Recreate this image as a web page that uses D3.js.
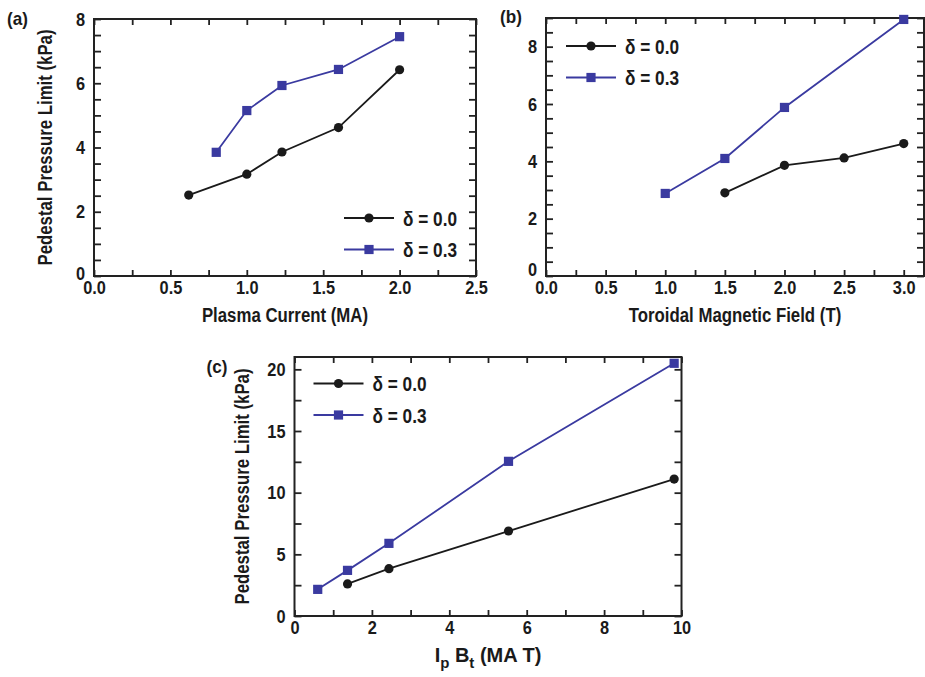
<!DOCTYPE html>
<html>
<head>
<meta charset="utf-8">
<script src="https://cdn.jsdelivr.net/npm/d3@7"></script>
<style>
  body { margin: 0; background: #fff; }
  svg text { font-family: "Liberation Sans", Arial, Helvetica, sans-serif; font-weight: bold; fill: #1a1a1a; }
</style>
</head>
<body>
<div id="graphWrapper"></div>
<script>
// (a) pedestal pressure vs plasma current
var ipA0 = [0.62, 1.0, 1.23, 1.6, 2.0];
var pA0 = [2.52, 3.17, 3.86, 4.62, 6.42];
var ipA3 = [0.8, 1.0, 1.23, 1.6, 2.0];
var pA3 = [3.85, 5.15, 5.93, 6.43, 7.45];

// (b) pedestal pressure vs toroidal field
var btB0 = [1.5, 2.0, 2.5, 3.0];
var pB0 = [2.9, 3.86, 4.12, 4.62];
var btB3 = [1.0, 1.5, 2.0, 3.0];
var pB3 = [2.88, 4.1, 5.88, 8.95];

// (c) pedestal pressure vs Ip*Bt
var ipbtC0 = [1.37, 2.44, 5.53, 9.81];
var pC0 = [2.6, 3.84, 6.89, 11.1];
var ipbtC3 = [0.6, 1.37, 2.44, 5.53, 9.81];
var pC3 = [2.16, 3.7, 5.89, 12.54, 20.49];

var seriesNames = ["\u03b4 = 0.0", "\u03b4 = 0.3"];

var xTicksA = [0, 0.5, 1.0, 1.5, 2.0, 2.5];
var yTicksA = [0, 2, 4, 6, 8];
var xTicksB = [0, 0.5, 1.0, 1.5, 2.0, 2.5, 3.0];
var yTicksB = [0, 2, 4, 6, 8];
var xTicksC = [0, 2, 4, 6, 8, 10];
var yTicksC = [0, 5, 10, 15, 20];

var black = "#1a1a1a";
var blue = "#3a3aa0";

var svg = d3.select("#graphWrapper").append("svg")
    .attr("width", 925)
    .attr("height", 677);

function minorTicks(lo, hi, step){
    var out = [];
    for (var v = lo; v <= hi + 1e-9; v += step) out.push(+v.toFixed(4));
    return out;
}

// squeeze glyphs horizontally to look like a condensed bold face
function condense(sel, k){
    sel.each(function(){
        var len = this.getComputedTextLength();
        if (len > 0) {
            d3.select(this).attr("textLength", len * k).attr("lengthAdjust", "spacingAndGlyphs");
        }
    });
}

function drawPanel(p){
    var g = svg.append("g")
        .attr("transform", "translate(" + p.left + "," + p.top + ")");
    var x = d3.scaleLinear().domain(p.xDomain).range([0, p.width]);
    var y = d3.scaleLinear().domain(p.yDomain).range([p.height, 0]);

    var xAll = minorTicks(p.xDomain[0], p.xDomain[1], p.xMinor);
    var yAll = minorTicks(p.yDomain[0], p.yDomain[1], p.yMinor);
    var onlyMajor = function(list, fmt){
        return function(d){
            var hit = list.some(function(t){ return Math.abs(t - d) < 1e-6; });
            return hit ? fmt(d) : "";
        };
    };

    var axes = [
        g.append("g").attr("transform", "translate(0," + p.height + ")")
            .call(d3.axisBottom(x).tickValues(xAll).tickSize(-6).tickPadding(5).tickFormat(onlyMajor(p.xTicks, p.xFmt))),
        g.append("g")
            .call(d3.axisLeft(y).tickValues(yAll).tickSize(-7).tickPadding(9).tickFormat(onlyMajor(p.yTicks, d3.format("d")))),
        g.append("g")
            .call(d3.axisTop(x).tickValues(xAll).tickSize(-6).tickFormat("")),
        g.append("g").attr("transform", "translate(" + p.width + ",0)")
            .call(d3.axisRight(y).tickValues(yAll).tickSize(-7).tickFormat(""))
    ];
    axes.forEach(function(a){
        a.select(".domain").remove();
        a.selectAll("line").attr("stroke", "#222").attr("stroke-width", 1.8);
        a.selectAll("text").style("font-size", "19px").attr("fill", black);
        condense(a.selectAll("text"), 0.86);
    });
    if (p.zeroShift) {
        axes[1].selectAll(".tick").filter(function(d){ return d === 0; })
            .select("text").attr("dy", (0.32 - p.zeroShift / 19) + "em");
    }

    g.append("rect")
        .attr("width", p.width)
        .attr("height", p.height)
        .attr("fill", "none")
        .attr("stroke", "#222")
        .attr("stroke-width", 2);

    var line = d3.line()
        .x(function(d){ return x(d[0]); })
        .y(function(d){ return y(d[1]); });

    var s0 = d3.zip(p.x0, p.y0);
    var s3 = d3.zip(p.x3, p.y3);

    g.append("path").datum(s0).attr("d", line)
        .attr("fill", "none").attr("stroke", black).attr("stroke-width", 1.8);
    g.append("path").datum(s3).attr("d", line)
        .attr("fill", "none").attr("stroke", blue).attr("stroke-width", 1.8);

    g.selectAll(".pt0").data(s0).enter().append("circle")
        .attr("cx", function(d){ return x(d[0]); })
        .attr("cy", function(d){ return y(d[1]); })
        .attr("r", 4.6)
        .attr("fill", black);
    g.selectAll(".pt3").data(s3).enter().append("rect")
        .attr("x", function(d){ return x(d[0]) - 4.6; })
        .attr("y", function(d){ return y(d[1]) - 4.6; })
        .attr("width", 9.2)
        .attr("height", 9.2)
        .attr("fill", blue);

    // legend
    var lg = g.append("g").attr("transform", "translate(" + p.legend[0] + "," + p.legend[1] + ")");
    [black, blue].forEach(function(c, i){
        var yy = i * 31.5;
        lg.append("line").attr("x1", 0).attr("x2", 50).attr("y1", yy).attr("y2", yy)
            .attr("stroke", c).attr("stroke-width", 1.8);
        if (i === 0) {
            lg.append("circle").attr("cx", 25).attr("cy", yy).attr("r", 4.6).attr("fill", c);
        } else {
            lg.append("rect").attr("x", 20.4).attr("y", yy - 4.6).attr("width", 9.2).attr("height", 9.2).attr("fill", c);
        }
        var t = lg.append("text").attr("x", 59).attr("y", yy).attr("dy", "0.36em")
            .style("font-size", "21px").text(seriesNames[i]);
        condense(t, 0.82);
    });

    // axis titles
    var xt = g.append("text")
        .attr("x", p.width / 2)
        .attr("y", p.height + 46)
        .attr("text-anchor", "middle")
        .style("font-size", "20px")
        .html(p.xLabel);
    if (!p.xSub) condense(xt, 0.84);
    if (p.yLabel) {
        g.append("text")
            .attr("transform", "translate(" + (-p.yLabelOff) + "," + (p.height / 2) + ") rotate(-90) scale(0.84,1)")
            .attr("text-anchor", "middle")
            .style("font-size", "20px")
            .text(p.yLabel);
    }
    var tg = g.append("text")
        .attr("x", p.tag[0])
        .attr("y", p.tag[1])
        .style("font-size", "19px")
        .text(p.tagText);
    condense(tg, 0.9);
}

drawPanel({
    left: 94, top: 19, width: 382, height: 257,
    xDomain: [0, 2.5], yDomain: [0, 8], xMinor: 0.25, yMinor: 0.5,
    xTicks: xTicksA, yTicks: yTicksA, xFmt: d3.format(".1f"),
    x0: ipA0, y0: pA0, x3: ipA3, y3: pA3,
    legend: [250, 199], zeroShift: 3,
    xLabel: "Plasma Current (MA)",
    yLabel: "Pedestal Pressure Limit (kPa)", yLabelOff: 42,
    tag: [-87, 6], tagText: "(a)"
});

drawPanel({
    left: 546, top: 18, width: 378, height: 258,
    xDomain: [0, 3.17], yDomain: [0, 9], xMinor: 0.25, yMinor: 0.5,
    xTicks: xTicksB, yTicks: yTicksB, xFmt: d3.format(".1f"),
    x0: btB0, y0: pB0, x3: btB3, y3: pB3,
    legend: [20, 28], zeroShift: 7,
    xLabel: "Toroidal Magnetic Field (T)",
    tag: [-46, 5], tagText: "(b)"
});

drawPanel({
    left: 294.5, top: 357, width: 387, height: 259,
    xDomain: [0, 10], yDomain: [0, 21], xMinor: 1, yMinor: 2.5,
    xTicks: xTicksC, yTicks: yTicksC, xFmt: d3.format("d"),
    x0: ipbtC0, y0: pC0, x3: ipbtC3, y3: pC3,
    legend: [19, 26.5],
    xSub: true,
    xLabel: "I<tspan dy='6' font-size='15px'>p</tspan><tspan dy='-6'> B</tspan><tspan dy='6' font-size='15px'>t</tspan><tspan dy='-6'> (MA T)</tspan>",
    yLabel: "Pedestal Pressure Limit (kPa)", yLabelOff: 46,
    tag: [-88, 16], tagText: "(c)"
});
</script>
</body>
</html>
